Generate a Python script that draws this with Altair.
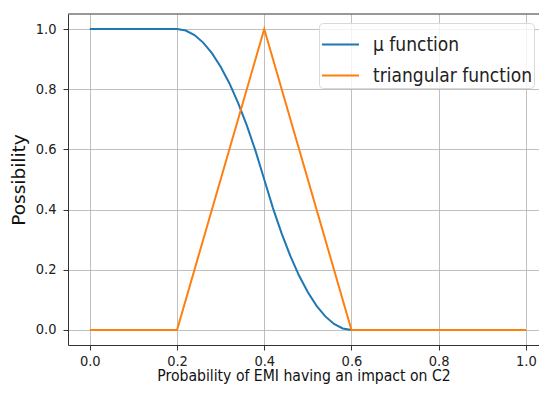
import altair as alt
import pandas as pd

# mu function
mu_x = [0.0, 0.20, 0.22, 0.24, 0.26, 0.28, 0.30, 0.32, 0.34, 0.36, 0.38, 0.40,
        0.42, 0.44, 0.46, 0.48, 0.50, 0.52, 0.54, 0.56, 0.58, 0.60, 1.0]
mu_y = [1.0, 1.0, 0.995, 0.98, 0.955, 0.92, 0.875, 0.82, 0.755, 0.68, 0.595, 0.5,
        0.405, 0.32, 0.245, 0.18, 0.125, 0.08, 0.045, 0.02, 0.005, 0.0, 0.0]

# triangular function
tri_x = [0.0, 0.2, 0.4, 0.6, 1.0]
tri_y = [0.0, 0.0, 1.0, 0.0, 0.0]

series_names = ["μ function", "triangular function"]
colors = ["#1f77b4", "#ff7f0e"]
tick_vals = [0.0, 0.2, 0.4, 0.6, 0.8, 1.0]

rows = []
for i, (x, y) in enumerate(zip(mu_x, mu_y)):
    rows.append({"x": x, "y": y, "series": series_names[0], "order": i})
for i, (x, y) in enumerate(zip(tri_x, tri_y)):
    rows.append({"x": x, "y": y, "series": series_names[1], "order": i})
df = pd.DataFrame(rows)

cfont = "DejaVu Sans Condensed, DejaVu Sans"
rfont = "DejaVu Sans"

W, H = 471, 331

lines = alt.Chart(df).mark_line(strokeWidth=2, clip=True).encode(
    x=alt.X("x:Q",
            scale=alt.Scale(domain=[-0.05, 1.03], nice=False, zero=False),
            axis=alt.Axis(values=tick_vals, format=".1f",
                          title="Probability of EMI having an impact on C2",
                          titleFont=cfont, titleFontSize=15.6, titlePadding=1)),
    y=alt.Y("y:Q",
            scale=alt.Scale(domain=[-0.05, 1.05], nice=False, zero=False),
            axis=alt.Axis(values=tick_vals, format=".1f", title="Possibility",
                          titleFont=rfont, titleFontSize=18.5, titlePadding=7,
                          labelPadding=7)),
    color=alt.Color("series:N",
                    scale=alt.Scale(domain=series_names, range=colors),
                    legend=alt.Legend(title=None, orient="none",
                                      legendX=251, legendY=9,
                                      symbolType="stroke", symbolSize=1369,
                                      symbolStrokeWidth=2,
                                      labelFontSize=19, labelFont=cfont,
                                      labelColor="#222", labelOffset=13,
                                      rowPadding=1,
                                      padding=2,
                                      fillColor="rgba(255,255,255,0.8)",
                                      strokeColor="#d9d9d9",
                                      cornerRadius=4)),
    order="order:Q",
)

top_spine = alt.Chart(pd.DataFrame({"a": [0]})).mark_rule(
    color="#333", strokeWidth=1
).encode(x=alt.value(0), x2=alt.value(W), y=alt.value(0))

chart = alt.layer(lines, top_spine).properties(
    width=W, height=H,
    autosize=alt.AutoSizeParams(type="none"),
    padding={"left": 60, "top": 6, "right": 0, "bottom": 43},
).configure_view(
    stroke=None
).configure_axis(
    domain=True, domainColor="#333", domainWidth=1,
    grid=True, gridColor="#b0b0b0", gridWidth=0.8,
    tickColor="#333", tickSize=5, tickWidth=1,
    labelFont=cfont, labelFontSize=14.5, labelColor="#222", labelPadding=4,
    titleFontWeight="normal", titleColor="#111",
)

chart.save("out.html", embed_options={"renderer": "svg", "actions": False})
